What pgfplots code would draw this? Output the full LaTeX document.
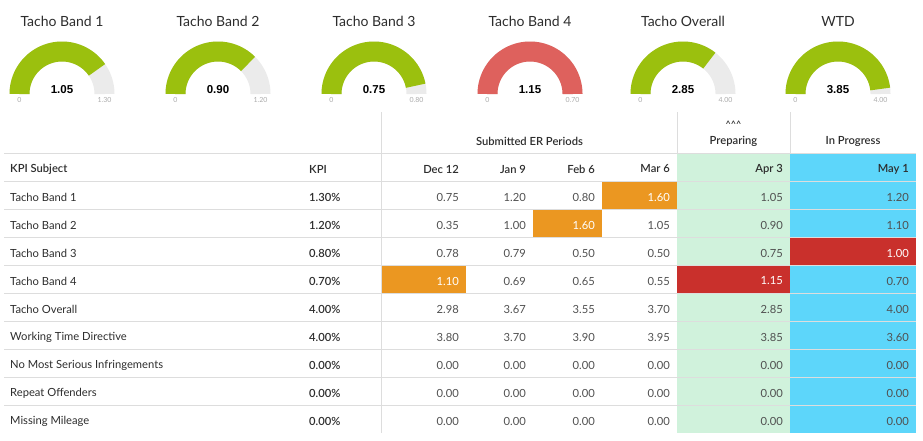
\documentclass[border=0pt]{standalone}
\usepackage{pgfplots}
\pgfplotsset{compat=1.18}
\usepackage{fontspec}
\setmainfont{Lato}
\newfontfamily\semib{Lato Semibold}
\newfontfamily\arialf{Liberation Sans}
\definecolor{gaugegreen}{RGB}{155,192,14}
\definecolor{gaugered}{RGB}{222,97,93}
\definecolor{track}{RGB}{235,235,235}
\definecolor{gridc}{RGB}{221,221,221}
\definecolor{cellgreen}{RGB}{208,242,220}
\definecolor{cellblue}{RGB}{93,214,250}
\definecolor{cellorange}{RGB}{235,151,33}
\definecolor{cellred}{RGB}{201,48,44}
\definecolor{txtdark}{RGB}{45,45,45}
\definecolor{txtnum}{RGB}{80,80,80}
\definecolor{txtlight}{RGB}{170,170,170}
\newcommand{\tfs}{\fontsize{11.2}{13}\selectfont}

% gauge: center x, title, value, max, colour, max label
\newcommand{\gauge}[6]{%
  \addplot[domain=0:180, samples=91, line width=20pt, color=track] ({#1+42.5*cos(x)},{94-42.5*sin(x)});
  \addplot[domain={180*(1-min(1,#3/#4))}:180, samples=91, line width=20pt, color=#5] ({#1+42.5*cos(x)},{94-42.5*sin(x)});
  \node[font=\fontsize{14}{16}\selectfont, text=txtdark] at (axis cs:#1,21) {#2};
  \node[font=\arialf\bfseries\fontsize{11.5}{13}\selectfont, text=black] at (axis cs:#1,90) {#3};
  \node[font=\fontsize{7}{8}\selectfont, text=txtlight] at (axis cs:#1-42.5,100) {0};
  \node[font=\fontsize{7}{8}\selectfont, text=txtlight] at (axis cs:#1+42.5,100) {#6};
}
% table cell background: x1, x2, y1, y2, colour
\newcommand{\cellbg}[5]{%
  \addplot[draw=none, fill=#5] coordinates {(#1,#3) (#2,#3) (#2,#4) (#1,#4)} -- cycle;
}
% number cell: right x, y, text, colour
\newcommand{\num}[4]{%
  \node[anchor=east, inner sep=0pt, font=\tfs, text=#4] at (axis cs:#1,#2+2) {#3};
}
% data row: y, label, kpi
\newcommand{\rowlab}[3]{%
  \node[anchor=west, inner sep=0pt, font=\tfs, text=txtdark] at (axis cs:10,#1+2) {#2};
  \node[anchor=west, inner sep=0pt, font=\semib\tfs, text=txtdark] at (axis cs:309,#1+2) {#3};
}
% six values for one row (all in the default colour)
\newcommand{\vals}[7]{%
  \num{459}{#1}{#2}{txtnum}\num{526}{#1}{#3}{txtnum}\num{595}{#1}{#4}{txtnum}%
  \num{670}{#1}{#5}{txtnum}\num{783}{#1}{#6}{txtnum}\num{909}{#1}{#7}{txtnum}%
}
\newcommand{\hdr}[3]{%
  \node[anchor=#1, inner sep=0pt, font=\semib\tfs, text=txtdark] at (axis cs:#2,169) {#3};
}

\begin{document}
\begin{tikzpicture}
\begin{axis}[
  scale only axis, width=923pt, height=440pt,
  xmin=0, xmax=923, ymin=0, ymax=440, y dir=reverse,
  axis lines=none, clip=false,
]
\addplot[draw=none] coordinates {(0,0) (923,440)};

% ---------- gauges ----------
\gauge{62}{Tacho Band 1}{1.05}{1.30}{gaugegreen}{1.30}
\gauge{218}{Tacho Band 2}{0.90}{1.20}{gaugegreen}{1.20}
\gauge{374}{Tacho Band 3}{0.75}{0.80}{gaugegreen}{0.80}
\gauge{530}{Tacho Band 4}{1.15}{0.70}{gaugered}{0.70}
\gauge{683}{Tacho Overall}{2.85}{4.00}{gaugegreen}{4.00}
\gauge{838}{WTD}{3.85}{4.00}{gaugegreen}{4.00}

% ---------- table backgrounds ----------
\cellbg{677}{790}{153}{433}{cellgreen}
\cellbg{790}{916}{153}{433}{cellblue}
\cellbg{602}{677}{181}{209}{cellorange}
\cellbg{533}{602}{209}{237}{cellorange}
\cellbg{790}{916}{237}{265}{cellred}
\cellbg{382}{466}{265}{293}{cellorange}
\cellbg{677}{790}{265}{293}{cellred}

% ---------- grid lines ----------
\addplot[gridc, line width=1pt] coordinates {(4,153) (916,153)};
\addplot[gridc, line width=1pt] coordinates {(4,181) (916,181)};
\addplot[gridc, line width=1pt] coordinates {(4,209) (916,209)};
\addplot[gridc, line width=1pt] coordinates {(4,237) (916,237)};
\addplot[gridc, line width=1pt] coordinates {(4,265) (916,265)};
\addplot[gridc, line width=1pt] coordinates {(4,293) (916,293)};
\addplot[gridc, line width=1pt] coordinates {(4,321) (916,321)};
\addplot[gridc, line width=1pt] coordinates {(4,349) (916,349)};
\addplot[gridc, line width=1pt] coordinates {(4,377) (916,377)};
\addplot[gridc, line width=1pt] coordinates {(4,405) (916,405)};
\addplot[gridc, line width=1pt] coordinates {(381.5,112) (381.5,433)};
\addplot[gridc, line width=1pt] coordinates {(677,112) (677,153)};
\addplot[gridc, line width=1pt] coordinates {(790,112) (790,153)};

% ---------- headers ----------
\node[font=\semib\tfs, text=txtdark] at (axis cs:529.5,141) {Submitted ER Periods};
\node[font=\semib\fontsize{9}{10}\selectfont, text=txtdark] at (axis cs:733.5,124.5) {\^{}\^{}\^{}};
\node[font=\semib\tfs, text=txtdark] at (axis cs:733.5,141) {Preparing};
\node[font=\semib\tfs, text=txtdark] at (axis cs:853,141) {In Progress};

\hdr{west}{10}{KPI Subject}
\hdr{west}{309}{KPI}
\hdr{east}{459}{Dec 12}
\hdr{east}{526}{Jan 9}
\hdr{east}{595}{Feb 6}
\hdr{east}{670}{Mar 6}
\hdr{east}{783}{Apr 3}
\hdr{east}{909}{May 1}

% ---------- rows ----------
\rowlab{195}{Tacho Band 1}{1.30\%}
\num{459}{195}{0.75}{txtnum}\num{526}{195}{1.20}{txtnum}\num{595}{195}{0.80}{txtnum}
\num{670}{195}{1.60}{white}\num{783}{195}{1.05}{txtnum}\num{909}{195}{1.20}{txtnum}

\rowlab{223}{Tacho Band 2}{1.20\%}
\num{459}{223}{0.35}{txtnum}\num{526}{223}{1.00}{txtnum}\num{595}{223}{1.60}{white}
\num{670}{223}{1.05}{txtnum}\num{783}{223}{0.90}{txtnum}\num{909}{223}{1.10}{txtnum}

\rowlab{251}{Tacho Band 3}{0.80\%}
\num{459}{251}{0.78}{txtnum}\num{526}{251}{0.79}{txtnum}\num{595}{251}{0.50}{txtnum}
\num{670}{251}{0.50}{txtnum}\num{783}{251}{0.75}{txtnum}\num{909}{251}{1.00}{white}

\rowlab{279}{Tacho Band 4}{0.70\%}
\num{459}{279}{1.10}{white}\num{526}{279}{0.69}{txtnum}\num{595}{279}{0.65}{txtnum}
\num{670}{279}{0.55}{txtnum}\num{783}{279}{1.15}{white}\num{909}{279}{0.70}{txtnum}

\rowlab{307}{Tacho Overall}{4.00\%}
\vals{307}{2.98}{3.67}{3.55}{3.70}{2.85}{4.00}

\rowlab{335}{Working Time Directive}{4.00\%}
\vals{335}{3.80}{3.70}{3.90}{3.95}{3.85}{3.60}

\rowlab{363}{No Most Serious Infringements}{0.00\%}
\vals{363}{0.00}{0.00}{0.00}{0.00}{0.00}{0.00}

\rowlab{391}{Repeat Offenders}{0.00\%}
\vals{391}{0.00}{0.00}{0.00}{0.00}{0.00}{0.00}

\rowlab{419}{Missing Mileage}{0.00\%}
\vals{419}{0.00}{0.00}{0.00}{0.00}{0.00}{0.00}

\end{axis}
\end{tikzpicture}
\end{document}
